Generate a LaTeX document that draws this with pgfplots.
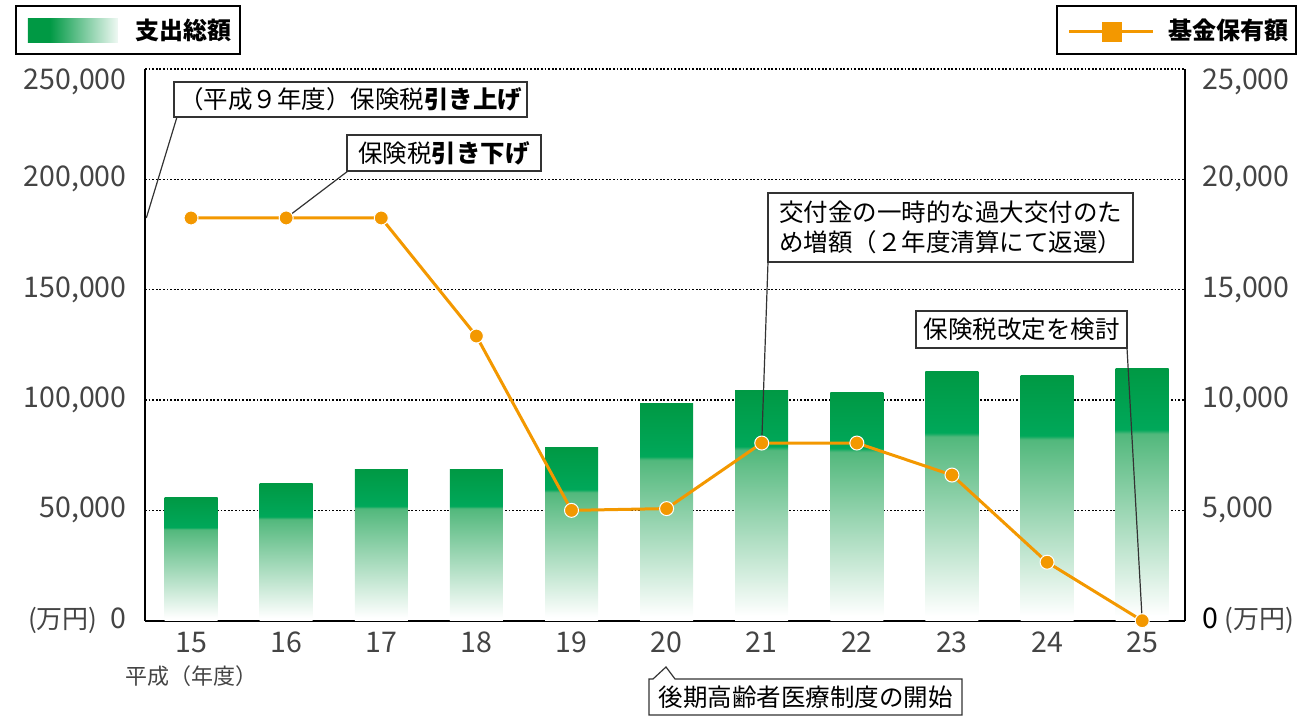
\documentclass[border=0pt]{standalone}
\usepackage{pgfplots}
\pgfplotsset{compat=1.18}
\usepackage{fontspec}
\setmainfont{Noto Sans CJK JP}
\definecolor{gdark}{HTML}{009944}
\definecolor{gmid}{HTML}{00A85A}
\definecolor{glight}{HTML}{52B87C}
\definecolor{orng}{HTML}{F39800}
\definecolor{tickgray}{HTML}{444444}
\definecolor{boxline}{HTML}{333333}
\pgfdeclareverticalshading{barshade}{100bp}{color(0bp)=(white); color(25bp)=(white); color(26bp)=(white); color(62bp)=(glight); color(62.8bp)=(gmid); color(75bp)=(gdark); color(100bp)=(gdark)}
\pgfdeclarehorizontalshading{legshade}{100bp}{color(0bp)=(gdark); color(25bp)=(gdark); color(37bp)=(gdark); color(75bp)=(gdark!6); color(100bp)=(gdark!6)}
\newcommand\tickfont{\fontsize{28.5}{32}\selectfont}
\newcommand\notefont{\fontsize{24.5}{30}\selectfont}
\pgfplotsset{greenbar/.style={ybar, bar width=53pt, bar shift=0pt, draw=none, shade, shading=barshade}}
\begin{document}
\begin{tikzpicture}
\path[use as bounding box] (-145pt,-96.3pt) rectangle (1152pt,620.7pt);
\coordinate (b1) at (32pt,503.7pt);
\coordinate (b2) at (203pt,449.7pt);
\coordinate (b3) at (623pt,358.7pt);
\coordinate (b4) at (982pt,272.7pt);
\begin{axis}[
  at={(0pt,0pt)}, anchor=south west,
  scale only axis, width=1040pt, height=551.7pt,
  xmin=-0.484, xmax=10.45, ymin=0, ymax=250000,
  axis x line*=bottom, axis y line*=left,
  axis line style={line width=2.2pt, black},
  xtick={0,...,10}, xticklabels={15,16,17,18,19,20,21,22,23,24,25},
  ytick={0,50000,100000,150000,200000},
  yticklabels={{{\fontsize{26}{30}\selectfont(万円)}\hspace{13pt}0},{50{,}000},{100{,}000},{150{,}000},{200{,}000}},
  extra y ticks={250000}, extra y tick labels={{250{,}000}},
  extra y tick style={grid=major, yticklabel style={yshift=-13pt}},
  ymajorgrids, grid style={black, line width=1.6pt, dash pattern=on 1.8pt off 1.8pt},
  major tick length=0pt,
  tick label style={font=\tickfont, text=tickgray},
  yticklabel style={xshift=-15pt},
  xticklabel style={yshift=-8pt},
  clip=false,
]
\addplot[greenbar] coordinates {(0,55900)};
\addplot[greenbar] coordinates {(1,62250)};
\addplot[greenbar] coordinates {(2,68700)};
\addplot[greenbar] coordinates {(3,68700)};
\addplot[greenbar] coordinates {(4,78600)};
\addplot[greenbar] coordinates {(5,98500)};
\addplot[greenbar] coordinates {(6,104500)};
\addplot[greenbar] coordinates {(7,103400)};
\addplot[greenbar] coordinates {(8,112700)};
\addplot[greenbar] coordinates {(9,110900)};
\addplot[greenbar] coordinates {(10,114500)};
\end{axis}
\begin{axis}[
  at={(0pt,0pt)}, anchor=south west,
  scale only axis, width=1040pt, height=551.7pt,
  xmin=-0.484, xmax=10.45, ymin=0, ymax=25000,
  axis x line=none, axis y line*=right,
  axis line style={line width=2.2pt, black},
  ytick={0,5000,10000,15000,20000},
  yticklabels={{\textcolor{black}{0}\hspace{6pt}{\fontsize{26}{30}\selectfont(万円)}},{5{,}000},{10{,}000},{15{,}000},{20{,}000}},
  extra y ticks={25000}, extra y tick labels={{25{,}000}},
  extra y tick style={yticklabel style={yshift=-13pt}},
  major tick length=0pt,
  tick label style={font=\tickfont, text=tickgray},
  yticklabel style={xshift=14pt},
  clip=false,
]
\draw[boxline, line width=1.2pt] (b1) -- (axis cs:-0.47,18250);
\draw[boxline, line width=1.2pt] (b2) -- (axis cs:1,18250);
\draw[boxline, line width=1.2pt] (b3) -- (axis cs:6,8050);
\draw[boxline, line width=1.2pt] (b4) -- (axis cs:10,0);
\addplot[orng, line width=3pt, mark=*, mark size=7pt, mark options={fill=orng, draw=white, line width=1pt}] coordinates {
(0,18250) (1,18250) (2,18250) (3,12900) (4,5000) (5,5080) (6,8050) (7,8050) (8,6600) (9,2650) (10,0)};
\end{axis}
% legends
\draw[black, line width=2pt, fill=white] (-129pt,566.7pt) rectangle (95pt,614.7pt);
\shade[shading=legshade] (-117pt,577.7pt) rectangle (-27pt,601.7pt);
\node[anchor=west, inner sep=0pt] at (-10pt,590.7pt) {\fontsize{24}{28}\selectfont\bfseries 支出総額};
\draw[black, line width=2pt, fill=white] (912pt,566.7pt) rectangle (1151pt,614.7pt);
\draw[orng, line width=3pt] (924pt,588.7pt) -- (1008pt,588.7pt);
\fill[orng] (957pt,578.7pt) rectangle (977pt,598.7pt);
\node[anchor=west, inner sep=0pt] at (1023pt,590.7pt) {\fontsize{24}{28}\selectfont\bfseries 基金保有額};
% annotation boxes
\draw[boxline, line width=1.2pt, fill=white] (29pt,503.7pt) rectangle (382pt,538.7pt);
\node[inner sep=0pt, font=\notefont] at (205.5pt,521.2pt) {（平成９年度）保険税\textbf{引き上げ}};
\draw[boxline, line width=1.2pt, fill=white] (202pt,449.7pt) rectangle (396pt,485.7pt);
\node[inner sep=0pt, font=\notefont] at (299pt,467.7pt) {保険税\textbf{引き下げ}};
\draw[boxline, line width=1.2pt, fill=white] (623pt,358.7pt) rectangle (988pt,427.7pt);
\node[inner sep=0pt, align=left, font=\notefont] at (805.5pt,393.2pt) {交付金の一時的な過大交付のた\\[-0.5pt]め増額（２年度清算にて返還）};
\draw[boxline, line width=1.2pt, fill=white] (771pt,272.7pt) rectangle (982pt,309.7pt);
\node[inner sep=0pt, font=\notefont] at (876.5pt,291.2pt) {保険税改定を検討};
\draw[boxline, line width=1.2pt, fill=white] (504pt,-58.3pt) -- (508pt,-58.3pt) -- (521pt,-46.3pt) -- (530pt,-58.3pt) -- (817pt,-58.3pt) -- (817pt,-94.3pt) -- (504pt,-94.3pt) -- cycle;
\node[inner sep=0pt, font=\notefont] at (660.5pt,-76.3pt) {後期高齢者医療制度の開始};
\node[anchor=west, inner sep=0pt, text=tickgray] at (-20pt,-55.3pt) {\fontsize{22}{26}\selectfont 平成（年度）};
\end{tikzpicture}
\end{document}
